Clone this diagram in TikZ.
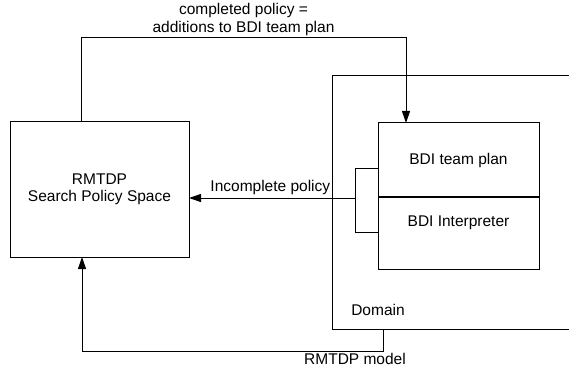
\documentclass[tikz,border=0pt]{standalone}
\usepackage{fontspec}
\setmainfont{Liberation Sans}
\usetikzlibrary{positioning,arrows.meta}

\begin{document}
\begin{tikzpicture}[x=1pt, y=-1pt, line width=1pt, font=\fontsize{15.5}{17.5}\selectfont,
		box/.style={draw, rectangle, inner sep=0pt, outer sep=0pt, align=center},
		arr/.style={-{Triangle[length=12pt, width=8pt]}}]
		\useasboundingbox (0,0) rectangle (569,371);

		\node [box, minimum width=179, minimum height=135] (R) at (99.5,189.5) {RMTDP\\Search Policy Space};
		\node [box, minimum width=258, minimum height=253] (D) at (461,202.5) {};
		\node [box, minimum width=161, minimum height=74] (P) at (458.5,160) {BDI team plan};
		\node [box, minimum width=161, text height=29, text depth=43, below=0pt of P] (I) {BDI Interpreter};
		\node (Dl) at (378,310) {Domain};

		\coordinate (bt) at (355,169);
		\coordinate (bm) at (355,198);
		\coordinate (bb) at (355,232);
		\draw (P.west |- bt) -- (bt) -- (bb) -- (I.west |- bb);

		\path[arr] (bm) edge node [above, pos=0.51, inner sep=3pt] {Incomplete policy} (R.east |- bm);
		\draw[arr] (R.north -| 81,0) -- (81,38) -- node [above, align=center, inner sep=2pt] {completed policy =\\additions to BDI team plan} (406,38) -- (P.north -| 406,0);
		\draw[arr] (D.south -| 383,0) -- (383,351) -- (82,351) -- (R.south -| 82,0);
		\node [anchor=north, inner sep=2pt] (M) at (355,351) {RMTDP model};
	\end{tikzpicture}
\end{document}
